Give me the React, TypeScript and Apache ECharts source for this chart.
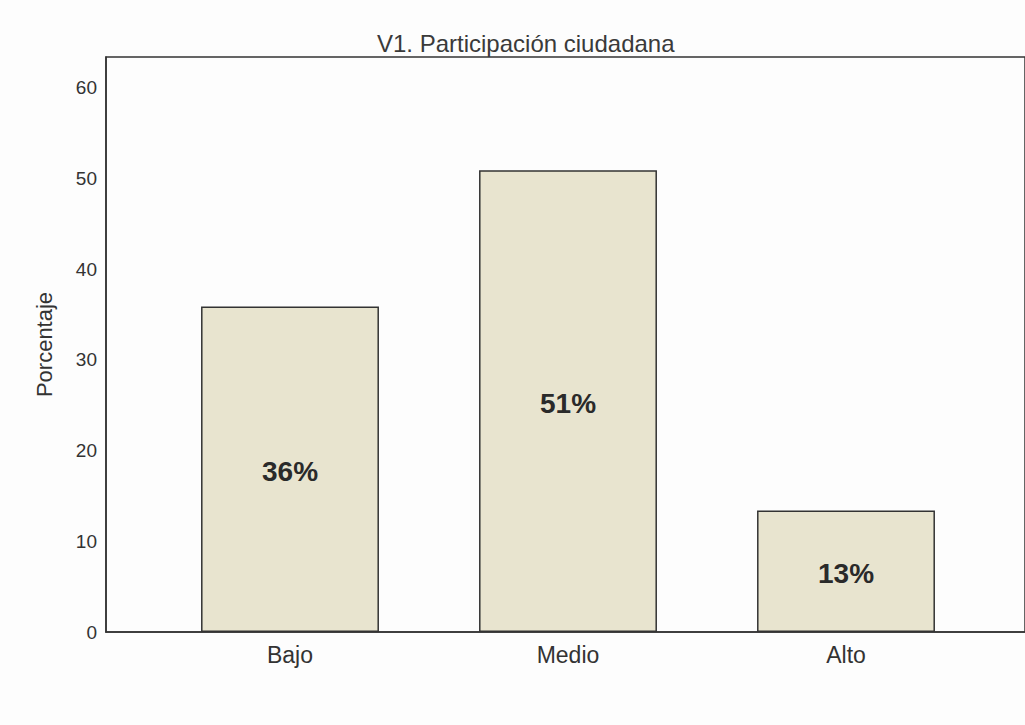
import React, { useEffect, useRef } from "react";
import * as echarts from "echarts";

const titleText = "V1. Participación ciudadana";
const categories = ["Bajo", "Medio", "Alto"];
const percentages = [35.9, 50.9, 13.4];
const yAxisName = "Porcentaje";
const yMax = 63.4;
const yInterval = 10;

export default function App() {
  const ref = useRef<HTMLDivElement>(null);
  useEffect(() => {
    if (!ref.current) return;
    const chart = echarts.init(ref.current, null, { renderer: "svg" });
    const font = "Arial, 'Liberation Sans', sans-serif";
    chart.setOption({
      animation: false,
      backgroundColor: "#fdfdfd",
      title: {
        text: titleText,
        left: 372,
        top: 26,
        textStyle: { fontFamily: font, fontSize: 24, fontWeight: "normal", color: "#3a3a3a" },
      },
      grid: [
        { left: 106, top: 57, right: -5, bottom: 93, show: true, borderColor: "#333", borderWidth: 1.5, backgroundColor: "transparent" },
        { left: 151, top: 57, right: 40, bottom: 93 },
      ],
      xAxis: [
        {
          gridIndex: 0,
          type: "category",
          data: [""],
          axisLine: { show: true, lineStyle: { color: "#333", width: 1.5 } },
          axisTick: { show: false },
          axisLabel: { show: false },
        },
        {
          gridIndex: 1,
          type: "category",
          data: categories,
          axisLine: { show: false },
          axisTick: { show: false },
          axisLabel: { fontFamily: font, fontSize: 23, color: "#333", margin: 11 },
        },
      ],
      yAxis: [
        {
          gridIndex: 0,
          type: "value",
          min: 0,
          max: yMax,
          interval: yInterval,
          name: yAxisName,
          nameLocation: "middle",
          nameGap: 51,
          nameTextStyle: { fontFamily: font, fontSize: 22, color: "#333" },
          axisLine: { show: true, lineStyle: { color: "#333", width: 1.5 } },
          axisTick: { show: false },
          splitLine: { show: false },
          axisLabel: {
            fontFamily: font,
            fontSize: 19,
            color: "#333",
            margin: 9,
            showMaxLabel: false,
          },
        },
        {
          gridIndex: 1,
          type: "value",
          min: 0,
          max: yMax,
          interval: yInterval,
          show: false,
        },
      ],
      series: [
        {
          type: "bar",
          xAxisIndex: 1,
          yAxisIndex: 1,
          data: percentages,
          barWidth: "64%",
          itemStyle: { color: "#e8e4cf", borderColor: "#333", borderWidth: 1.5 },
          label: {
            show: true,
            position: "inside",
            offset: [0, 2],
            formatter: (p: any) => Math.round(p.value) + "%",
            fontFamily: font,
            fontSize: 28,
            fontWeight: "bold",
            color: "#2a2a2a",
          },
        },
      ],
    });
    return () => chart.dispose();
  }, []);
  return (
    <div
      ref={ref}
      style={{ position: "fixed", left: 0, top: 0, width: 1025, height: 725 }}
    />
  );
}
